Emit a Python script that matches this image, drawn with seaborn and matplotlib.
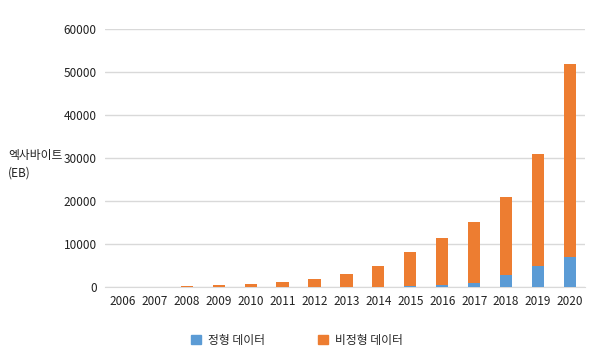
import pandas as pd
import seaborn as sns
import matplotlib.pyplot as plt
from matplotlib.patches import Patch

years = ['2006', '2007', '2008', '2009', '2010', '2011', '2012', '2013',
         '2014', '2015', '2016', '2017', '2018', '2019', '2020']
정형 = [0, 0, 0, 0, 0, 0, 0, 0, 50, 200, 350, 850, 2800, 4800, 6900]
전체 = [30, 60, 150, 400, 700, 1100, 1950, 2950, 4950, 8250, 11450, 15000, 20900, 30900, 51900]

df = pd.DataFrame({'year': years, 'structured': 정형, 'total': 전체})

sns.set_style("white")
plt.rcParams['font.family'] = ['Noto Sans CJK KR', 'DejaVu Sans']

fig = plt.figure(figsize=(6, 3.61), dpi=100)
ax = fig.add_axes([0.175, 0.205, 0.80, 0.715])

sns.barplot(x='year', y='total', data=df, color='#ED7D31', width=0.38,
            saturation=1, linewidth=0, ax=ax, zorder=3)
sns.barplot(x='year', y='structured', data=df, color='#5B9BD5', width=0.38,
            saturation=1, linewidth=0, ax=ax, zorder=4)

ax.set_ylim(0, 60000)
ax.set_xlim(-0.56, 14.47)
ax.set_yticks(range(0, 60001, 10000))
ax.yaxis.grid(True, color='#d9d9d9', linewidth=1, zorder=0)
ax.set_axisbelow(True)
for s in ['top', 'right', 'left']:
    ax.spines[s].set_visible(False)
ax.spines['bottom'].set_color('#d9d9d9')
ax.tick_params(axis='both', length=0, labelsize=8.5, colors='#222222')
ax.tick_params(axis='x', pad=6)
ax.tick_params(axis='y', pad=6)
ax.set_xlabel('')
ax.set_ylabel('')
fig.text(0.013, 0.545, '엑사바이트\n(EB)', fontsize=8.5, ha='left', va='center',
         color='#222222', linespacing=1.4)

handles = [Patch(color='#5B9BD5', label='정형 데이터'),
           Patch(color='#ED7D31', label='비정형 데이터')]
fig.legend(handles=handles, loc='center', bbox_to_anchor=(0.495, 0.058), ncol=2,
           frameon=False, fontsize=8.5, handlelength=0.8, handleheight=0.8,
           columnspacing=4.5, handletextpad=0.6)

plt.savefig('out.png', dpi=100)
